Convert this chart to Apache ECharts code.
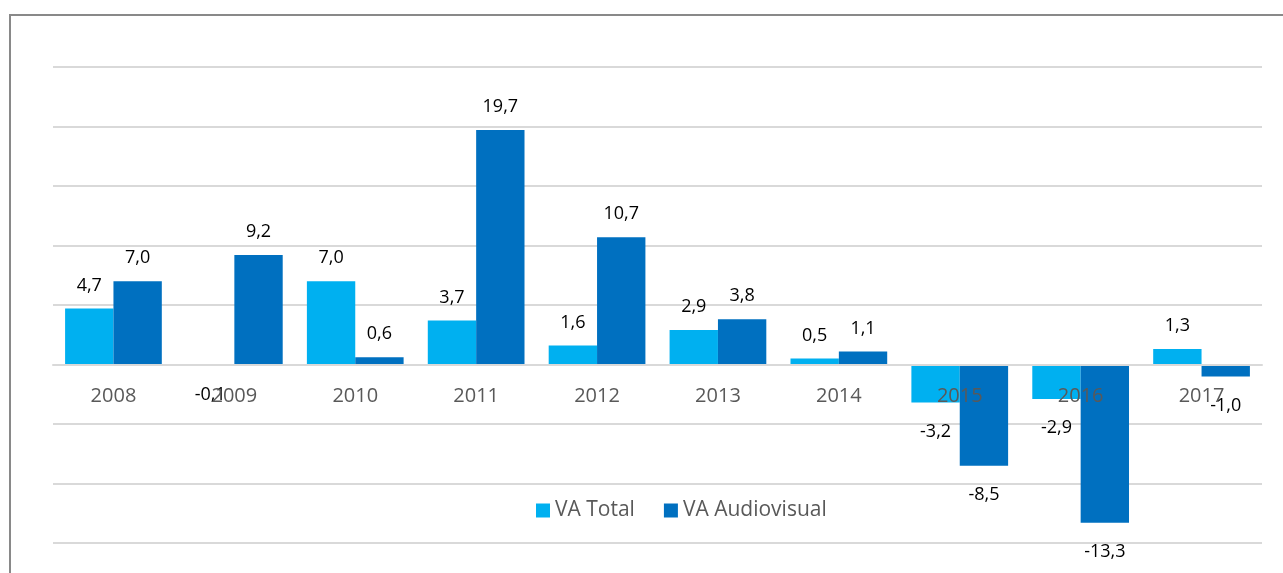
<!DOCTYPE html>
<html>
<head>
<meta charset="utf-8">
<script src="https://cdn.jsdelivr.net/npm/echarts@6/dist/echarts.min.js"></script>
<style>
  html, body { margin: 0; padding: 0; background: #fff; }
  #chart { width: 1283px; height: 573px; }
</style>
</head>
<body>
<div id="chart"></div>
<script>
// dados do gráfico
const years = ['2008', '2009', '2010', '2011', '2012', '2013', '2014', '2015', '2016', '2017'];
const vaTotal = [4.7, -0.1, 7.0, 3.7, 1.6, 2.9, 0.5, -3.2, -2.9, 1.3];
const vaAudiovisual = [7.0, 9.2, 0.6, 19.7, 10.7, 3.8, 1.1, -8.5, -13.3, -1.0];

function fmt(v) {
    return v.toFixed(1).replace('.', ',');
}

// rótulo acima para positivos, abaixo para negativos
function withLabels(values) {
    return values.map(v => ({
        value: v,
        label: v < 0
            ? { position: 'bottom', distance: 20 }
            : { position: 'top', distance: 14 }
    }));
}

function initChart() {
    const chart = echarts.init(document.getElementById('chart'));

    const labelStyle = {
        show: true,
        color: '#000',
        fontSize: 18,
        fontFamily: 'Open Sans',
        formatter: p => fmt(p.value)
    };

    const option = {
        animation: false,
        graphic: [{
            type: 'rect',
            shape: { x: 10, y: 15, width: 1400, height: 700 },
            style: { fill: 'none', stroke: '#898989', lineWidth: 2 },
            silent: true
        }],
        legend: {
            left: 531,
            top: 495,
            itemWidth: 14,
            itemHeight: 14,
            itemGap: 29,
            icon: 'rect',
            textStyle: { color: '#595959', fontSize: 21, fontFamily: 'Open Sans' },
            data: ['VA Total', 'VA Audiovisual']
        },
        grid: { left: 53, right: 21, top: 67, bottom: 30, containLabel: false, outerBoundsMode: 'none' },
        xAxis: {
            type: 'category',
            data: years,
            z: 5,
            position: 'bottom',
            offset: -178.5, // eixo sobre a linha do zero
            axisTick: { show: false },
            axisLine: { onZero: false, lineStyle: { color: '#d9d9d9', width: 2 } },
            axisLabel: { color: '#595959', fontSize: 20, fontFamily: 'Open Sans', margin: 22 }
        },
        yAxis: {
            type: 'value',
            min: -15,
            max: 25,
            interval: 5,
            axisLabel: { show: false },
            axisLine: { show: false },
            axisTick: { show: false },
            splitLine: { lineStyle: { color: '#d9d9d9', width: 2 } }
        },
        series: [
            {
                name: 'VA Total',
                type: 'bar',
                data: withLabels(vaTotal),
                itemStyle: { color: '#00b0f0' },
                barGap: '0%',
                barCategoryGap: '20%',
                label: labelStyle
            },
            {
                name: 'VA Audiovisual',
                type: 'bar',
                data: withLabels(vaAudiovisual),
                itemStyle: { color: '#0070c0' },
                barGap: '0%',
                barCategoryGap: '20%',
                label: labelStyle
            }
        ]
    };

    chart.setOption(option);
    window.addEventListener('resize', () => chart.resize());
}

document.addEventListener('DOMContentLoaded', function () {
    try {
        initChart();
    } catch (error) {
        console.error('Falha ao iniciar o gráfico:', error);
    }
});
</script>
</body>
</html>
